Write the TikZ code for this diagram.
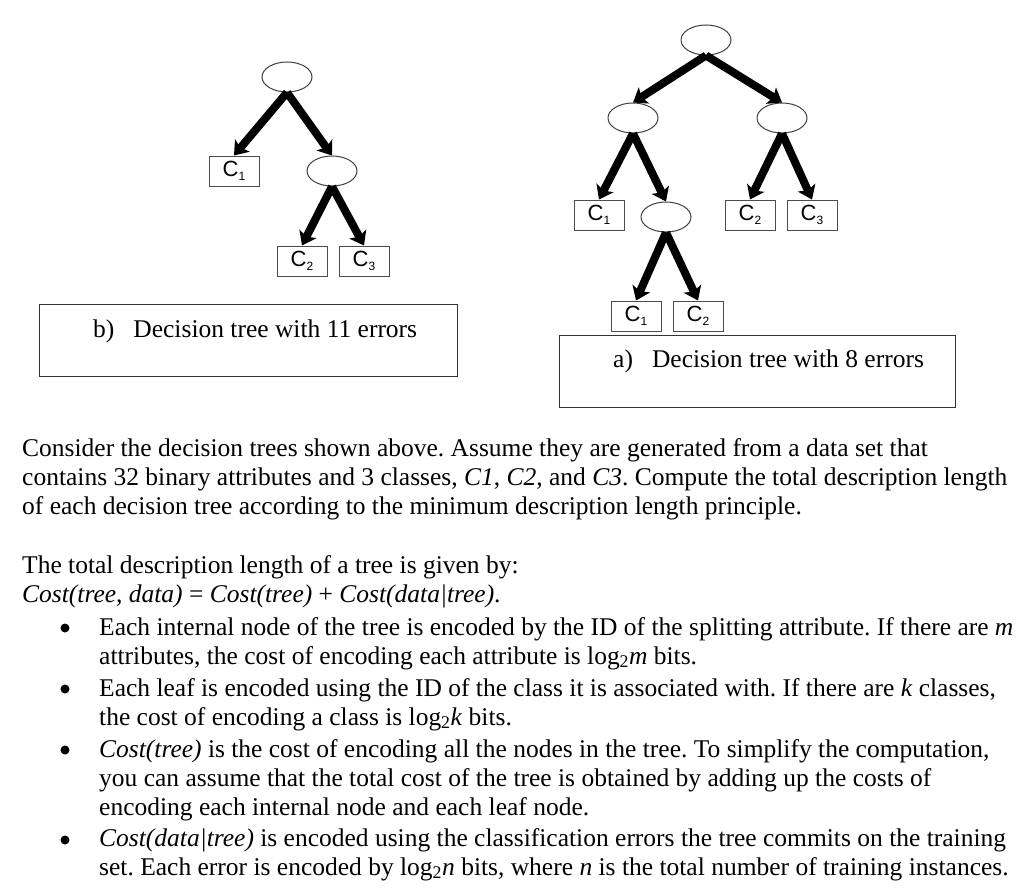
\documentclass[tikz,border=0pt]{standalone}
\usepackage{fontspec}
\setmainfont{Liberation Serif}
\setsansfont{Liberation Sans}
\usepackage{tikz}
\usetikzlibrary{arrows.meta,positioning,shapes.geometric}
\frenchspacing
\tikzset{
  tnode/.style={draw=black!75,fill=white,ellipse,minimum width=50pt,minimum height=30pt,inner sep=0pt,line width=1pt},
  tleaf/.style={draw=black!70,fill=white,rectangle,minimum width=50pt,minimum height=30pt,inner sep=0pt,line width=1pt,font=\fontsize{22}{22}\sffamily},
  tarr/.style={-{Stealth[length=13pt,width=19pt,inset=3pt]},line width=8pt,draw=black},
  capbox/.style={draw=black!80,line width=1pt,inner sep=0pt},
  captext/.style={anchor=base west,inner sep=0pt,font=\fontsize{25.5}{28.8}\selectfont},
  ptext/.style={anchor=base west,inner sep=0pt,align=left,font=\fontsize{25.5}{29}\selectfont},
  tdot/.style={circle,fill=black,inner sep=0pt,minimum size=9pt}
}
\newcommand{\leafc}[1]{C\raisebox{-4pt}{\fontsize{12}{12}\selectfont#1}}

\begin{document}
\begin{tikzpicture}[x=1pt,y=-1pt]
  \useasboundingbox (0,0) rectangle (1024,891);
  \node[tnode] (rootb) at (287,77) {};
  \node[tleaf] (c1b) at (234,171) {\leafc{1}};
  \node[tnode] (nb) at (332,171) {};
  \node[tleaf] (c2b) at (302,261) {\leafc{2}};
  \node[tleaf] (c3b) at (364,261) {\leafc{3}};
  \node[tnode] (roota) at (706,40) {};
  \node[tnode] (la) at (633,118) {};
  \node[tnode] (ra) at (782,118) {};
  \node[tleaf] (c1a) at (599,215) {\leafc{1}};
  \node[tnode] (ma) at (666,217) {};
  \node[tleaf] (c2a) at (750,215) {\leafc{2}};
  \node[tleaf] (c3a) at (812,215) {\leafc{3}};
  \node[tleaf] (c1m) at (636,316) {\leafc{1}};
  \node[tleaf] (c2m) at (698,316) {\leafc{2}};
  \foreach \p/\c in {rootb/c1b,rootb/nb,nb/c2b,nb/c3b,roota/la,roota/ra,la/c1a,la/ma,ra/c2a,ra/c3a,ma/c1m,ma/c2m}
    \draw[tarr] (\p.south) -- (\c.north);
  \node[capbox,minimum width=418pt,minimum height=72pt] (boxb) at (248,340) {};
  \node[captext] (capb) at (93,337.5) {b)\hspace{19pt}Decision tree with 11 errors};
  \node[capbox,minimum width=396pt,minimum height=72pt] (boxa) at (757,371) {};
  \node[captext] (capa) at (613,367) {a)\hspace{19pt}Decision tree with 8 errors};
  \node[ptext] (intro) at (22,514) {Consider the decision trees shown above. Assume they are generated from a data set that\\
    contains 32 binary attributes and 3 classes, \textit{C1}, \textit{C2}, and \textit{C3}. Compute the total description length\\
    of each decision tree according to the minimum description length principle.};
  \node[ptext] (given) at (22,602) {The total description length of a tree is given by:\\
    \textit{Cost(tree, data)} = \textit{Cost(tree)} + \textit{Cost(data|tree)}.};
  \foreach \y/\n in {628/1,689/2,750/3,840/4}
    \node[tdot] (dot\n) at (65,\y) {};
  \node[ptext] (item1) at (99,664) {Each internal node of the tree is encoded by the ID of the splitting attribute. If there are \textit{m}\\
    attributes, the cost of encoding each attribute is log\textsubscript{2}\textit{m} bits.};
  \node[ptext] (item2) at (99,725) {Each leaf is encoded using the ID of the class it is associated with. If there are \textit{k} classes,\\
    the cost of encoding a class is log\textsubscript{2}\textit{k} bits.};
  \node[ptext] (item3) at (99,815) {\textit{Cost(tree)} is the cost of encoding all the nodes in the tree. To simplify the computation,\\
    you can assume that the total cost of the tree is obtained by adding up the costs of\\
    encoding each internal node and each leaf node.};
  \node[ptext] (item4) at (99,875) {\textit{Cost(data|tree)} is encoded using the classification errors the tree commits on the training\\
    set. Each error is encoded by log\textsubscript{2}\textit{n} bits, where \textit{n} is the total number of training instances.};
\end{tikzpicture}
\end{document}
